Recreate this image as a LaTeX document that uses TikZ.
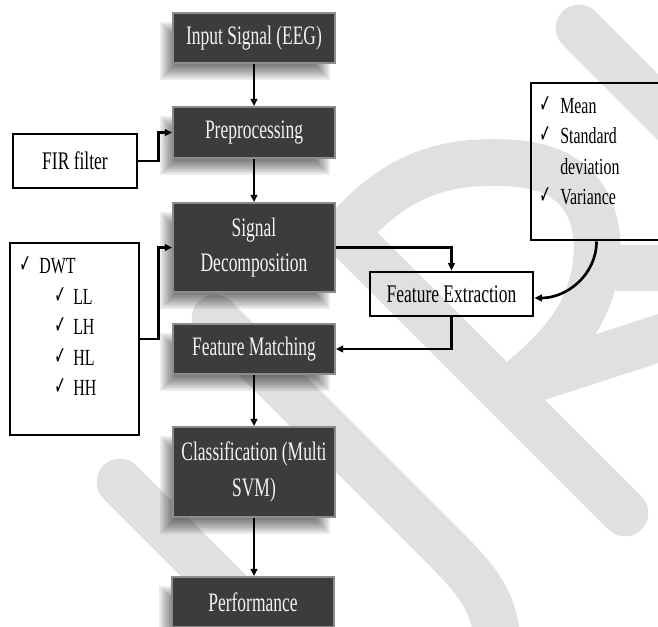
\documentclass[tikz,border=0pt]{standalone}
\usepackage{fontspec}
\setmainfont{Liberation Serif}
\newfontfamily\chkfont{DejaVu Sans}
\usetikzlibrary{arrows.meta,calc,backgrounds}
\definecolor{boxfill}{HTML}{3C3C3C}
\definecolor{boxedge}{HTML}{8C8C8C}
\definecolor{wmark}{HTML}{E0E0E0}
\definecolor{txtw}{HTML}{F4F4F4}
\newcommand\sqz[1]{\scalebox{0.69}[1]{#1}}
\newcommand\sqd[1]{\scalebox{0.655}[1]{#1}}
\newcommand\ck{\scalebox{0.55}[1]{\chkfont\fontsize{19}{19}\selectfont ✓}}
\newcommand\dshadow[1]{\foreach \e in {-8,-6,...,8}{\fill[black,opacity=0.08] ($(#1.north west)+(-4-\e,18-\e)$) rectangle ($(#1.south east)+(-14+\e,8+\e)$);}}
\begin{document}
\begin{tikzpicture}[x=0.75pt,y=-0.75pt,
  darkbox/.style={draw=boxedge, line width=1.3pt, fill=boxfill, text=txtw, minimum width=121.5pt,
    font=\fontsize{20}{26.5}\selectfont, align=center, inner sep=0pt},
  whitebox/.style={draw=black, line width=2.2pt, font=\fontsize{19}{26}\selectfont, inner sep=0pt, align=center},
  lst/.style={font=\fontsize{17.3}{22}\selectfont, inner sep=0pt, anchor=base west},
  chk/.style={inner sep=0pt, anchor=base west},
  conn/.style={draw=black, line width=2pt, -{Triangle[length=5.5pt,width=5pt]}},
  vconn/.style={draw=black, line width=1.4pt, -{Triangle[length=5.5pt,width=5pt]}},
  wm/.style={draw=wmark, line width=35pt, line cap=round}
]
\useasboundingbox (0,0) rectangle (658,626);
\begin{scope}[on background layer]
\fill[white] (0,0) rectangle (658,626);
% watermark
\draw[wm] (579,28) -- (720,169);
\draw[wm] (120,482) -- (300,662);
\draw[wm] (215,318) -- (430,533) .. controls (480,583) and (498,600) .. (498,660);
\draw[wm] (345,233) -- (625,513);
\draw[wm] (345,233) .. controls (400,170) and (450,160) .. (510,163) .. controls (575,166) and (598,205) .. (597,250) .. controls (596,310) and (560,350) .. (515,385);
\draw[wm, line cap=butt] (597,268) -- (700,268);
\draw[wm] (515,385) -- (700,325);
\end{scope}
% dark boxes
\node[darkbox, minimum height=37.5pt] (is) at (254,38) {\sqd{Input Signal (EEG)}};
\node[darkbox, minimum height=38.25pt] (pp) at (254,132.5) {\sqd{Preprocessing}};
\node[darkbox, minimum height=66.75pt] (sd) at (254,247.5) {\sqd{Signal}\\\sqd{Decomposition}};
\node[darkbox, minimum height=37.5pt] (fm) at (254,349) {\sqd{Feature Matching}};
\node[darkbox, minimum height=67.5pt] (cl) at (254,472) {\sqd{Classification (Multi}\\\sqd{SVM)}};
\node[darkbox, minimum height=37.5pt] (pf) at (253,602) {\sqd{Performance}};
\begin{scope}[on background layer]
\dshadow{is}\dshadow{pp}\dshadow{sd}\dshadow{fm}\dshadow{cl}\dshadow{pf}
\end{scope}
% white boxes
\node[whitebox, minimum width=93pt, minimum height=40.5pt] (fir) at (75,161) {\sqz{FIR filter}};
\node[whitebox, minimum width=96.75pt, minimum height=144pt] (dwt) at (74.5,339) {};
\node[whitebox, minimum width=98.25pt, minimum height=117.75pt] (feat) at (596.5,161.5) {};
\node[whitebox, minimum width=122.25pt, minimum height=33pt] (fe) at (451.5,294) {\sqz{Feature Extraction}};
% DWT list
\node[chk] (c0) at (19,272) {\ck};   \node[lst] (t0) at (39,273) {\sqz{DWT}};
\node[chk] (c1) at (54,303.5) {\ck}; \node[lst] (t1) at (73,304.5) {\sqz{LL}};
\node[chk] (c2) at (54,333) {\ck};   \node[lst] (t2) at (73,334) {\sqz{LH}};
\node[chk] (c3) at (54,364) {\ck};   \node[lst] (t3) at (73,365) {\sqz{HL}};
\node[chk] (c4) at (54,394) {\ck};   \node[lst] (t4) at (73,395) {\sqz{HH}};
% feature list
\node[chk] (m1) at (539,112) {\ck}; \node[lst] (n1) at (560,113) {\sqz{Mean}};
\node[chk] (m2) at (539,142) {\ck}; \node[lst] (n2) at (560,143) {\sqz{Standard}};
\node[lst] (n3) at (560,174) {\sqz{deviation}};
\node[chk] (m4) at (539,203) {\ck}; \node[lst] (n4) at (560,204) {\sqz{Variance}};
% connectors
\draw[vconn] (is) -- (pp);
\draw[vconn] (pp) -- (sd);
\draw[vconn] (fm) -- (cl);
\draw[vconn] (cl.south) -- (cl.south |- pf.north);
\draw[conn] (fir.east) -- ++(20,0) |- (pp.west);
\draw[conn] (dwt.east) -- ++(18,0) |- (sd.west);
\draw[conn] (sd.east) -| (fe.north);
\draw[conn] (fe.south) |- (fm.east);
\draw[conn] (feat.south) to[out=-90,in=0] ([yshift=-3pt]fe.east);
\end{tikzpicture}
\end{document}
